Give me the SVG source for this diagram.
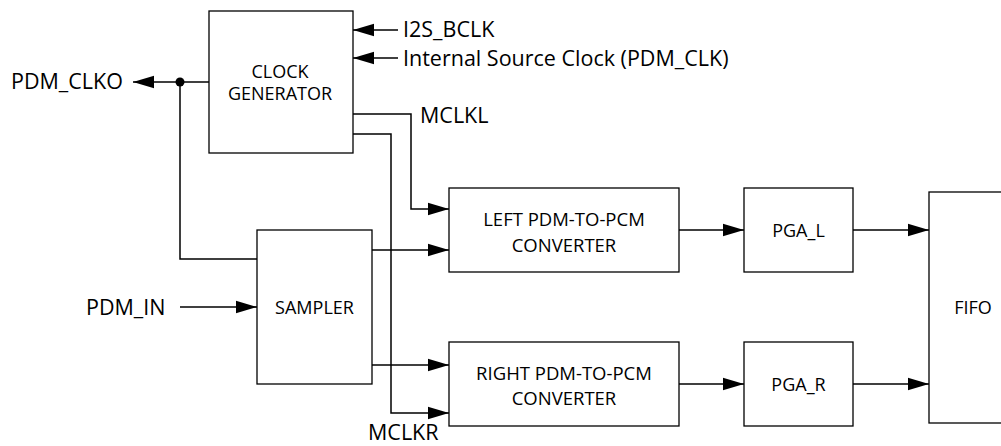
<svg xmlns="http://www.w3.org/2000/svg" width="1001" height="446" viewBox="0 0 1001 446">
<defs>
<marker id="arr" markerUnits="userSpaceOnUse" markerWidth="21" markerHeight="14" refX="21" refY="7" orient="auto">
<path d="M0,0.8 L21,7 L0,13.2 Z" fill="#000"/>
</marker>
<style>
.box{fill:#fff;stroke:#000;stroke-width:1.3}
.ln{fill:none;stroke:#000;stroke-width:1.5}
.ar{marker-end:url(#arr)}
.t{font-family:"Open Sans","Noto Sans",sans-serif;fill:#000}
.lb{font-size:21.5px}
.bx{font-size:18px;text-anchor:middle}
.cv{font-size:18.5px}
</style>
</defs>
<rect width="1001" height="446" fill="#fff"/>
<g id="connectors">
<line class="ln ar" x1="398" y1="30" x2="353" y2="30"/>
<line class="ln ar" x1="398" y1="58" x2="353" y2="58"/>
<line class="ln ar" x1="209" y1="82" x2="133" y2="82"/>
<circle cx="180" cy="82" r="4.5" fill="#000"/>
<polyline class="ln" points="180,82 180,259 257,259"/>
<line class="ln ar" x1="180" y1="307" x2="257" y2="307"/>
<polyline class="ln ar" points="353,114 411,114 411,209 449,209"/>
<polyline class="ln ar" points="353,134 391,134 391,413 449,413"/>
<line class="ln ar" x1="372" y1="250" x2="449" y2="250"/>
<line class="ln ar" x1="372" y1="365" x2="449" y2="365"/>
<line class="ln ar" x1="679" y1="230" x2="744" y2="230"/>
<line class="ln ar" x1="853" y1="230" x2="929" y2="230"/>
<line class="ln ar" x1="679" y1="384" x2="744" y2="384"/>
<line class="ln ar" x1="853" y1="384" x2="929" y2="384"/>
</g>
<g id="labels">
<text class="t lb" x="403" y="37">I2S_BCLK</text>
<text class="t lb" x="403" y="66">Internal Source Clock (PDM_CLK)</text>
<text class="t lb" x="11" y="89">PDM_CLKO</text>
<text class="t lb" x="86" y="315">PDM_IN</text>
<text class="t lb" x="420" y="123">MCLKL</text>
<text class="t lb" x="368" y="440">MCLKR</text>
</g>
<g id="clock-generator">
<rect class="box" x="209" y="11" width="144" height="142"/>
<text class="t bx" x="280" y="78">CLOCK</text>
<text class="t bx" x="280" y="100">GENERATOR</text>
</g>
<g id="sampler">
<rect class="box" x="257" y="230" width="115" height="154"/>
<text class="t bx" x="314.500" y="314">SAMPLER</text>
</g>
<g id="left-converter">
<rect class="box" x="449" y="188" width="230" height="84"/>
<text class="t bx cv" x="564" y="226">LEFT PDM-TO-PCM</text>
<text class="t bx cv" x="564" y="252">CONVERTER</text>
</g>
<g id="right-converter">
<rect class="box" x="449" y="342" width="230" height="84"/>
<text class="t bx cv" x="564" y="380">RIGHT PDM-TO-PCM</text>
<text class="t bx cv" x="564" y="405">CONVERTER</text>
</g>
<g id="pga-l">
<rect class="box" x="744" y="188" width="109" height="84"/>
<text class="t bx" x="798.500" y="237">PGA_L</text>
</g>
<g id="pga-r">
<rect class="box" x="744" y="342" width="109" height="84"/>
<text class="t bx" x="798.500" y="391">PGA_R</text>
</g>
<g id="fifo">
<rect class="box" x="929" y="192" width="90" height="231"/>
<text class="t bx" x="973" y="314">FIFO</text>
</g>
</svg>
